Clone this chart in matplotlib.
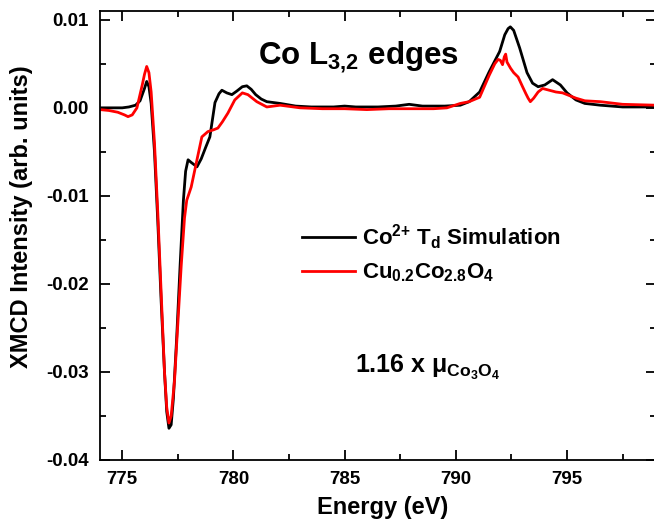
import numpy as np
import matplotlib
matplotlib.use('Agg')
import matplotlib.pyplot as plt
from matplotlib.ticker import MultipleLocator, FormatStrFormatter

# Co2+ Td simulation (black)
sim_energy = [774.0, 774.5, 775.0, 775.3, 775.6, 775.8, 775.9, 776.0, 776.1, 776.2,
              776.3, 776.45, 776.6, 776.75, 776.9, 777.0, 777.1, 777.2, 777.3, 777.45,
              777.6, 777.75, 777.85, 777.96, 778.1, 778.36, 778.55, 778.75, 778.94, 779.17,
              779.35, 779.48, 779.7, 779.93, 780.15, 780.4, 780.6, 780.8, 781.0, 781.25,
              781.5, 782.1, 782.8, 783.5, 784.5, 785.0, 785.5, 786.5, 787.3, 787.9,
              788.5, 789.5, 790.2, 790.6, 791.07, 791.5, 791.97, 792.2, 792.35, 792.45,
              792.6, 792.87, 793.2, 793.45, 793.7, 794.0, 794.35, 794.7, 795.0, 795.4,
              795.8, 796.5, 797.5, 799.0]
sim_xmcd = [0.0000, 0.0000, 0.0000, 0.0001, 0.0003, 0.0008, 0.0015, 0.0022, 0.0030, 0.0024,
            0.0005, -0.0050, -0.0130, -0.0220, -0.0300, -0.0345, -0.0364, -0.0360, -0.0330, -0.0260,
            -0.0180, -0.0105, -0.0072, -0.0059, -0.0062, -0.0067, -0.0058, -0.0045, -0.0033, 0.0006,
            0.0016, 0.0020, 0.0017, 0.0015, 0.0019, 0.0024, 0.0025, 0.0021, 0.0015, 0.0010,
            0.0007, 0.0005, 0.0002, 0.0001, 0.0001, 0.0002, 0.0001, 0.0001, 0.0002, 0.0004,
            0.0002, 0.0002, 0.0003, 0.0007, 0.0018, 0.0041, 0.0064, 0.0083, 0.0090, 0.0092,
            0.0088, 0.0068, 0.0040, 0.0028, 0.0024, 0.0026, 0.0032, 0.0026, 0.0017, 0.0009,
            0.0005, 0.0003, 0.0001, 0.0001]

# Cu0.2Co2.8O4 measurement (red)
exp_energy = [774.0, 774.4, 774.8, 775.1, 775.26, 775.45, 775.66, 775.9, 776.0, 776.1,
              776.2, 776.3, 776.45, 776.6, 776.75, 776.9, 777.0, 777.1, 777.2, 777.35,
              777.5, 777.65, 777.8, 777.9, 778.1, 778.36, 778.58, 778.85, 779.1, 779.3,
              779.5, 779.75, 780.06, 780.4, 780.65, 781.05, 781.5, 782.1, 783.0, 784.0,
              785.0, 786.0, 787.0, 788.0, 789.0, 789.6, 790.2, 790.6, 791.07, 791.5,
              791.75, 791.9, 792.0, 792.1, 792.18, 792.24, 792.3, 792.46, 792.6, 792.8,
              793.0, 793.15, 793.25, 793.35, 793.5, 793.7, 793.9, 794.2, 794.5, 794.8,
              795.0, 795.4, 795.8, 796.5, 797.5, 799.0]
exp_xmcd = [-0.0002, -0.0003, -0.0005, -0.0008, -0.0010, -0.0008, 0.0000, 0.0026, 0.0038, 0.0047,
            0.0040, 0.0018, -0.0040, -0.0120, -0.0210, -0.0300, -0.0340, -0.0358, -0.0350, -0.0310,
            -0.0245, -0.0180, -0.0125, -0.0105, -0.0090, -0.0059, -0.0033, -0.0027, -0.0025, -0.0023,
            -0.0016, -0.0006, 0.0009, 0.0017, 0.0015, 0.0007, 0.0001, 0.0003, 0.0000, -0.0001,
            -0.0001, -0.0002, -0.0001, -0.0001, -0.0001, 0.0000, 0.0005, 0.0007, 0.0012, 0.0037,
            0.0050, 0.0055, 0.0054, 0.0049, 0.0058, 0.0061, 0.0052, 0.0045, 0.0040, 0.0035,
            0.0024, 0.0016, 0.0011, 0.0007, 0.0011, 0.0018, 0.0022, 0.0020, 0.0018, 0.0017,
            0.0015, 0.0011, 0.0008, 0.0007, 0.0004, 0.0003]

plt.rcParams['font.family'] = ['Liberation Sans', 'DejaVu Sans']
plt.rcParams['font.weight'] = 'bold'
plt.rcParams['axes.unicode_minus'] = False
plt.rcParams['mathtext.fontset'] = 'custom'
plt.rcParams['mathtext.rm'] = 'Liberation Sans:bold'
plt.rcParams['mathtext.it'] = 'Liberation Sans:bold'
plt.rcParams['mathtext.bf'] = 'Liberation Sans:bold'
plt.rcParams['mathtext.sf'] = 'Liberation Sans'

fig = plt.figure(figsize=(6.54, 5.27), dpi=100)
ax = fig.add_axes([100 / 654, 1 - 460 / 527, 556 / 654, 449 / 527])

ax.plot(sim_energy, sim_xmcd, color='black', lw=2.0, label=r'Co$^{2{+}}$ T$_d$ Simulation')
ax.plot(exp_energy, exp_xmcd, color='#ff0000', lw=2.0, label=r'Cu$_{0.2}$Co$_{2.8}$O$_4$')

ax.set_xlim(774, 799)
ax.set_ylim(-0.04, 0.011)
ax.xaxis.set_major_locator(MultipleLocator(5))
ax.xaxis.set_minor_locator(MultipleLocator(2.5))
ax.yaxis.set_major_locator(MultipleLocator(0.01))
ax.yaxis.set_minor_locator(MultipleLocator(0.005))
ax.yaxis.set_major_formatter(FormatStrFormatter('%.2f'))
ax.tick_params(which='both', direction='in', top=True, right=True, width=1.3)
ax.tick_params(which='major', length=7, labelsize=13.5, pad=8)
ax.tick_params(which='minor', length=4)
for lab in ax.get_xticklabels() + ax.get_yticklabels():
    lab.set_fontweight('bold')
for sp in ax.spines.values():
    sp.set_linewidth(1.3)

ax.set_xlabel('Energy (eV)', fontsize=17, fontweight='bold')
ax.set_ylabel('XMCD Intensity (arb. units)', fontsize=17, fontweight='bold')
ax.xaxis.set_label_coords(0.509, -0.08)
ax.yaxis.set_label_coords(-0.12, 0.541)

ax.text(0.284, 0.880, r'Co L$_{3{,}2}$ edges', transform=ax.transAxes,
        fontsize=22.5, fontweight='bold', ha='left', va='baseline')
ax.text(0.459, 0.194, r'1.16 x $\mathsf{\mu_{Co_3O_4}}$', transform=ax.transAxes,
        fontsize=18, fontweight='bold', ha='left', va='baseline')

leg = ax.legend(loc='upper left', bbox_to_anchor=(0.363, 0.53), frameon=False,
                fontsize=16, handlelength=2.4, handletextpad=0.3, labelspacing=0.45,
                borderpad=0, borderaxespad=0)
for t in leg.get_texts():
    t.set_fontweight('bold')

fig.savefig('out.png', dpi=100)
